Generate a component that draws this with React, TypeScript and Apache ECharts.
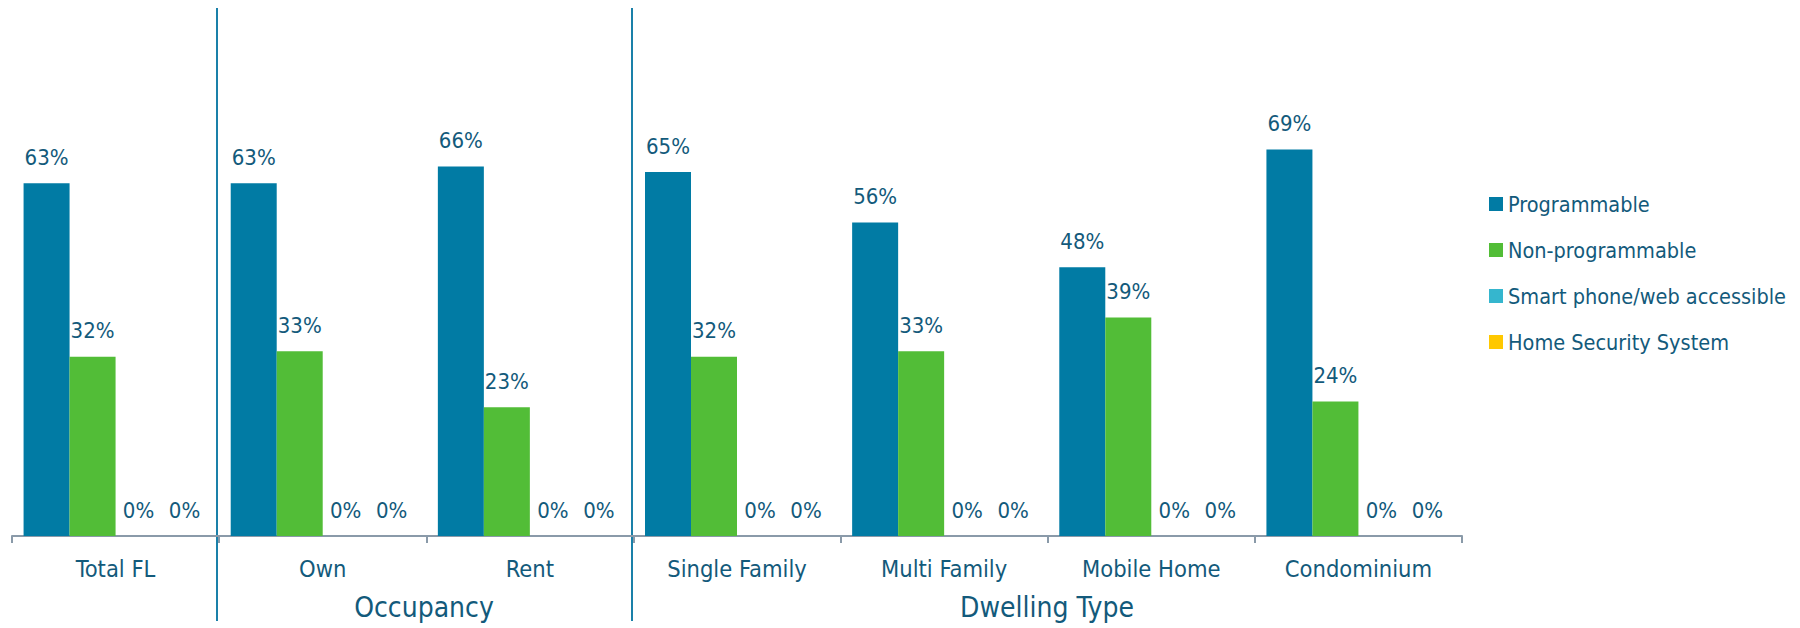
import React, { useEffect, useRef } from "react";
import * as echarts from "echarts";

const categories = ["Total FL", "Own", "Rent", "Single Family", "Multi Family", "Mobile Home", "Condominium"];
const seriesNames = ["Programmable", "Non-programmable", "Smart phone/web accessible", "Home Security System"];
const programmable = [63, 63, 66, 65, 56, 48, 69];
const nonProgrammable = [32, 33, 23, 32, 33, 39, 24];
const smartPhone = [0, 0, 0, 0, 0, 0, 0];
const homeSecurity = [0, 0, 0, 0, 0, 0, 0];
const groupLabels = ["Occupancy", "Dwelling Type"];

const colors = ["#017BA4", "#52BD37", "#35B6CE", "#FFC800"];
const textColor = "#135A7B";
const FONT = "'DejaVu Sans Condensed', 'Liberation Sans Narrow', sans-serif";

export default function App() {
  const ref = useRef<HTMLDivElement>(null);
  useEffect(() => {
    if (!ref.current) return;
    const chart = echarts.init(ref.current, null, { renderer: "svg" });
    const data = [programmable, nonProgrammable, smartPhone, homeSecurity];
    chart.setOption({
      animation: false,
      backgroundColor: "#ffffff",
      color: colors,
      grid: { left: 12, top: 88, width: 1450, height: 448, containLabel: false },
      legend: {
        orient: "vertical",
        left: 1484,
        top: 186,
        itemWidth: 14,
        itemHeight: 14,
        itemGap: 20,
        icon: "rect",
        data: seriesNames,
        textStyle: { color: textColor, fontSize: 21.5, lineHeight: 26, fontFamily: FONT, padding: [0, 0, 0, 0] },
      },
      xAxis: {
        type: "category",
        data: categories,
        axisLine: { lineStyle: { color: "#8A9AA9", width: 2 } },
        axisTick: { show: true, length: 7, lineStyle: { color: "#8A9AA9", width: 2 } },
        axisLabel: { color: textColor, fontSize: 23.5, fontFamily: FONT, margin: 21, interval: 0 },
      },
      yAxis: { type: "value", min: 0, max: 80, show: false, splitLine: { show: false } },
      series: seriesNames.map((name, i) => ({
        name,
        type: "bar",
        data: data[i],
        barWidth: 46,
        barGap: "0%",
        itemStyle: { color: colors[i] },
        label: {
          show: true,
          position: "top",
          distance: 15,
          formatter: "{c}%",
          color: textColor,
          fontSize: 22,
          fontFamily: FONT,
        },
      })),
      graphic: [
        { type: "line", shape: { x1: 217, y1: 8, x2: 217, y2: 621 }, style: { stroke: "#1A80A9", lineWidth: 2 } },
        { type: "line", shape: { x1: 632, y1: 8, x2: 632, y2: 621 }, style: { stroke: "#1A80A9", lineWidth: 2 } },
        {
          type: "text",
          x: 424,
          y: 607,
          style: { text: groupLabels[0], fill: textColor, font: `28px ${FONT}`, textAlign: "center", textVerticalAlign: "middle" },
        },
        {
          type: "text",
          x: 1047,
          y: 607,
          style: { text: groupLabels[1], fill: textColor, font: `28px ${FONT}`, textAlign: "center", textVerticalAlign: "middle" },
        },
      ],
    });
    return () => chart.dispose();
  }, []);
  return <div ref={ref} style={{ position: "fixed", left: 0, top: 0, width: 1800, height: 628 }} />;
}
